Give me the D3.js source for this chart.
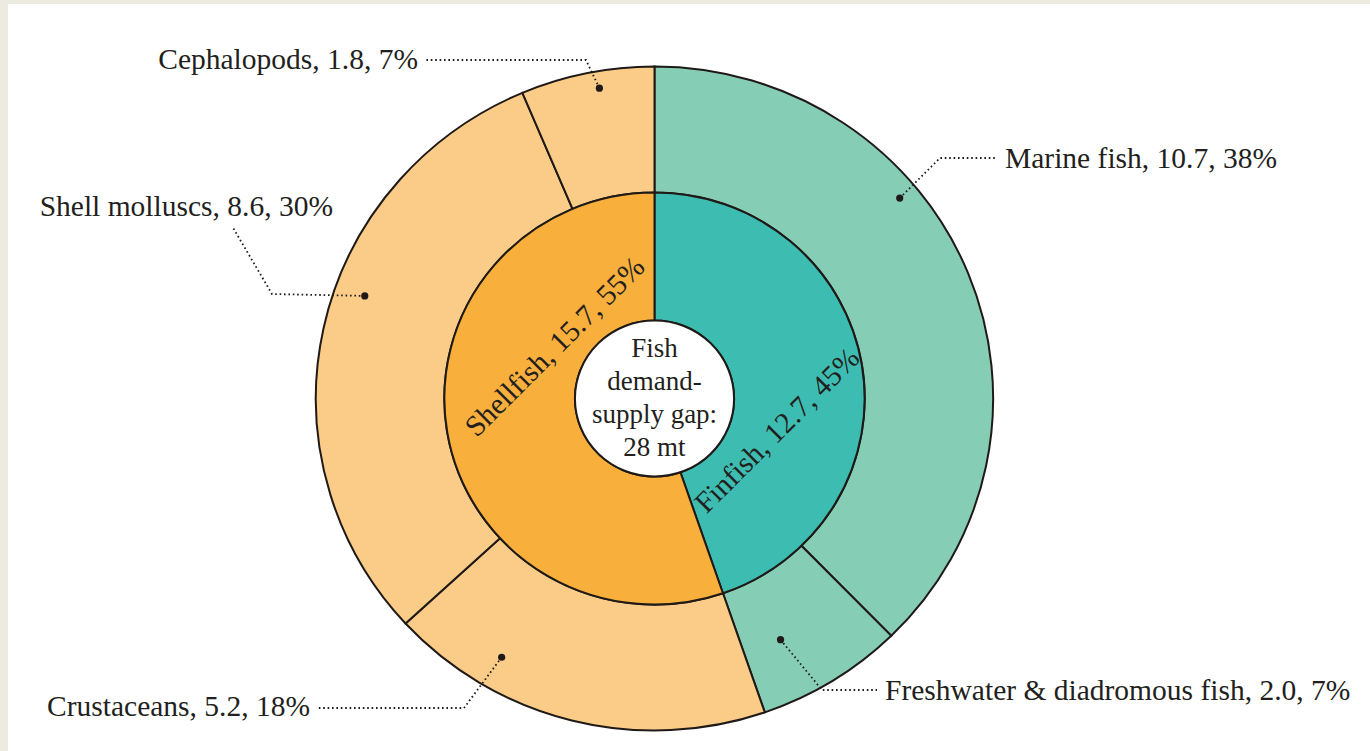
<!DOCTYPE html>
<html>
<head>
<meta charset="utf-8">
<script src="https://cdn.jsdelivr.net/npm/d3@7"></script>
<style>
  body { margin: 0; background: #fff; }
  text { font-family: "Liberation Serif", "Times New Roman", serif; fill: #231f20; }
</style>
</head>
<body>
<div id="chart"></div>
<script>
// inner ring: groups
var groups = ["Finfish", "Shellfish"];
var groupValues = [12.7, 15.7];
var groupPct = ["45%", "55%"];
// outer ring: sub categories (parent index = group)
var subNames = ["Marine fish", "Freshwater & diadromous fish", "Crustaceans", "Shell molluscs", "Cephalopods"];
var subParent = [0, 0, 1, 1, 1];
var subValues = [10.7, 2.0, 5.2, 8.6, 1.8];
var subPct = ["38%", "7%", "18%", "30%", "7%"];
var centerLines = ["Fish", "demand-", "supply gap:", "28 mt"];

var width = 1370, height = 751;
var cx = 654.5, cy = 398.5, sx = 1.02;
var rOuter = 332, rMid = 206, rHole = 78;
var innerColor = ["#3dbdb2", "#f8af3c"];
var outerColor = ["#86cdb5", "#fbcb88"];
var ink = "#1f1a17";

var svg = d3.select("#chart").append("svg").attr("width", width).attr("height", height)
// page border like the scan
svg.append("rect").attr("width", width).attr("height", height).attr("fill", "#fff")
svg.append("rect").attr("width", 8).attr("height", height).attr("fill", "#edeae0")
svg.append("rect").attr("width", width).attr("height", 4).attr("fill", "#edeae0")

var rings = svg.append("g").attr("transform", "translate(" + cx + "," + cy + ") scale(" + sx + ",1)")

var pie = d3.pie().sort(null).value(d => d.value)
var innerArcs = pie(groups.map((g, i) => ({ name: g, value: groupValues[i], i: i })))

// children fill their parent's angle range
var outerArcs = []
innerArcs.forEach(p => {
  var kids = subNames.map((n, i) => ({ name: n, value: subValues[i], i: i, parent: subParent[i] }))
    .filter(k => k.parent == p.data.i)
  var sub = d3.pie().sort(null).value(d => d.value).startAngle(p.startAngle).endAngle(p.endAngle)(kids)
  outerArcs = outerArcs.concat(sub)
})

var arcOuter = d3.arc().innerRadius(rMid).outerRadius(rOuter)
var arcInner = d3.arc().innerRadius(rHole).outerRadius(rMid)

rings.selectAll("path.outer").data(outerArcs).enter().append("path")
  .attr("class", "outer")
  .attr("d", arcOuter)
  .attr("fill", d => outerColor[d.data.parent])
  .attr("stroke", ink).attr("stroke-width", 2).attr("vector-effect", "non-scaling-stroke")

rings.selectAll("path.inner").data(innerArcs).enter().append("path")
  .attr("class", "inner")
  .attr("d", arcInner)
  .attr("fill", d => innerColor[d.data.i])
  .attr("stroke", ink).attr("stroke-width", 2).attr("vector-effect", "non-scaling-stroke")

rings.append("circle").attr("r", rHole).attr("fill", "#fff")
  .attr("stroke", ink).attr("stroke-width", 2).attr("vector-effect", "non-scaling-stroke")

function polar(angle, r) {
  return [cx + sx * r * Math.sin(angle), cy - r * Math.cos(angle)]
}

// centre text
svg.append("g").selectAll("text").data(centerLines).enter().append("text")
  .attr("x", cx).attr("y", (d, i) => 348 + i * 33)
  .attr("text-anchor", "middle").attr("dominant-baseline", "central")
  .attr("font-size", 27).text(d => d)

// inner ring labels, rotated
var innerLabelPos = [{ a: 104.8, r: 124 }, { a: 298, r: 111 }]
svg.append("g").selectAll("text").data(innerArcs).enter().append("text")
  .attr("transform", d => {
    var p = polar(innerLabelPos[d.data.i].a * Math.PI / 180, innerLabelPos[d.data.i].r)
    return "translate(" + p[0] + "," + p[1] + ") rotate(-45)"
  })
  .attr("text-anchor", "middle").attr("dominant-baseline", "central")
  .attr("font-size", 29.5)
  .text(d => d.data.name + ", " + d.data.value.toFixed(1) + ", " + groupPct[d.data.i])

// outer labels with dotted leaders: dot on slice (fraction of angle, radius), elbow, end, text side
var leaders = [
  { f: 0.37, r: 313, elbow: [940, 158], end: [996, 158], tx: 1005, ty: 158, anchor: "start" },
  { f: 0.68, r: 271, elbow: [822, 690], end: [877, 690], tx: 885, ty: 690, anchor: "start" },
  { f: 0.74, r: 299, elbow: [464, 708], end: [316, 708], tx: 310, ty: 706, anchor: "end" },
  { f: 0.57, r: 302, elbow: [272, 294], end: [232, 226], tx: 333, ty: 206, anchor: "end" },
  { f: 0.57, r: 315, elbow: [586, 60], end: [426, 60], tx: 418, ty: 59, anchor: "end" }
]

var lab = svg.append("g").selectAll("g").data(outerArcs).enter().append("g")
lab.each(function (d) {
  var L = leaders[d.data.i]
  var a = d.startAngle + L.f * (d.endAngle - d.startAngle)
  var p = polar(a, L.r)
  var g = d3.select(this)
  g.append("path")
    .attr("d", d3.line()([p, L.elbow, L.end]))
    .attr("fill", "none").attr("stroke", ink).attr("stroke-width", 1.8)
    .attr("stroke-dasharray", "1.6,2.8")
  g.append("circle").attr("cx", p[0]).attr("cy", p[1]).attr("r", 3.6).attr("fill", ink)
  g.append("text")
    .attr("x", L.tx).attr("y", L.ty)
    .attr("text-anchor", L.anchor).attr("dominant-baseline", "central")
    .attr("font-size", 29.5)
    .text(d.data.name + ", " + d.data.value.toFixed(1) + ", " + subPct[d.data.i])
})
</script>
</body>
</html>
